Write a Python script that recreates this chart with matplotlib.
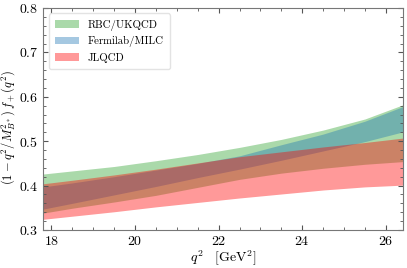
import numpy as np
import matplotlib
matplotlib.use("Agg")
import matplotlib.pyplot as plt
from matplotlib.ticker import MultipleLocator, AutoMinorLocator

plt.rcParams['font.family'] = 'serif'
plt.rcParams['font.serif'] = ['cmr10', 'DejaVu Serif']
plt.rcParams['mathtext.fontset'] = 'cm'
plt.rcParams['axes.formatter.use_mathtext'] = True

# q^2 grid (GeV^2) and band edges
q2 = [17.8, 18.5, 19.5, 20.5, 21.5, 22.5, 23.5, 24.5, 25.5, 26.41]

rbc_hi = [0.426, 0.433, 0.443, 0.456, 0.470, 0.486, 0.504, 0.525, 0.550, 0.582]
rbc_lo = [0.338, 0.349, 0.363, 0.378, 0.396, 0.414, 0.428, 0.439, 0.448, 0.454]

fnal_hi = [0.397, 0.406, 0.420, 0.435, 0.450, 0.467, 0.492, 0.516, 0.545, 0.578]
fnal_lo = [0.347, 0.360, 0.379, 0.398, 0.418, 0.437, 0.457, 0.478, 0.499, 0.521]

jlqcd_hi = [0.404, 0.412, 0.424, 0.437, 0.451, 0.465, 0.476, 0.487, 0.497, 0.507]
jlqcd_lo = [0.324, 0.331, 0.341, 0.352, 0.362, 0.372, 0.381, 0.390, 0.397, 0.401]

fig = plt.figure(figsize=(4.07, 2.68), dpi=100)
ax = fig.add_axes([0.106, 0.142, 0.884, 0.828])

ax.fill_between(q2, rbc_lo, rbc_hi, color='#2ca02c', alpha=0.4, lw=0, label='RBC/UKQCD')
ax.fill_between(q2, fnal_lo, fnal_hi, color='#1f77b4', alpha=0.4, lw=0, label='Fermilab/MILC')
ax.fill_between(q2, jlqcd_lo, jlqcd_hi, color='#ff0000', alpha=0.4, lw=0, label='JLQCD')

ax.set_xlim(17.8, 26.41)
ax.set_ylim(0.3, 0.8)
ax.xaxis.set_major_locator(MultipleLocator(2))
ax.xaxis.set_minor_locator(AutoMinorLocator())
ax.yaxis.set_major_locator(MultipleLocator(0.1))
ax.yaxis.set_minor_locator(AutoMinorLocator())
ax.tick_params(which='both', direction='in', top=True, right=True, color='#555555', labelsize=10)
ax.tick_params(which='major', length=3.5)
ax.tick_params(which='minor', length=2)
for s in ax.spines.values():
    s.set_color('#777777')
    s.set_linewidth(0.8)

ax.set_xlabel(r'$q^2\quad[\mathrm{GeV}^2]$', fontsize=10, labelpad=1)
ax.set_ylabel(r'$(1-q^2/M_{B^*}^2)\,f_+(q^2)$', fontsize=9)
ax.yaxis.set_label_coords(-0.072, 0.46)

leg = ax.legend(loc='upper left', fontsize=7.8, frameon=True, fancybox=True,
                edgecolor='#dddddd', handlelength=2.2, borderpad=0.6)

fig.savefig('out.png', dpi=100)
